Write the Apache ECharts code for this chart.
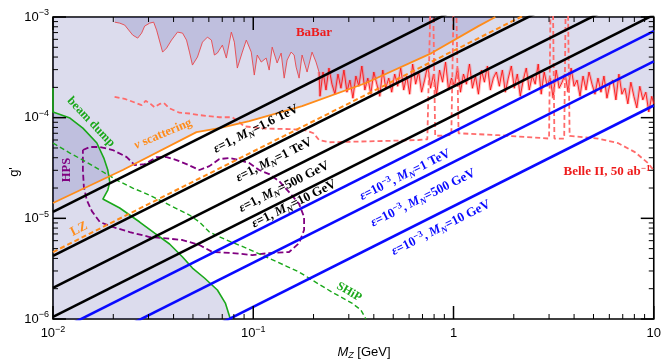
<!DOCTYPE html>
<html>
<head>
<meta charset="utf-8">
<title>Z' coupling limits</title>
<script src="https://cdn.jsdelivr.net/npm/echarts@6/dist/echarts.min.js"></script>
<style>
  html, body { margin: 0; padding: 0; background: #fff; }
  #chart { width: 664px; height: 362px; }
</style>
</head>
<body>
<div id="chart"></div>
<script>
// ---- axis ticks ----
var xMajorTicks = [0.01, 0.1, 1, 10];
var xTickLabels = ['10^-2', '10^-1', '1', '10'];
var xMinorTicks = [0.02, 0.03, 0.04, 0.05, 0.06, 0.07, 0.08, 0.09, 0.2, 0.3, 0.4, 0.5, 0.6, 0.7, 0.8, 0.9, 2, 3, 4, 5, 6, 7, 8, 9];
var yMajorTicks = [1e-6, 1e-5, 1e-4, 1e-3];
var yTickLabels = ['10^-6', '10^-5', '10^-4', '10^-3'];
var yMinorTicks = [2e-6, 3e-6, 4e-6, 5e-6, 6e-6, 7e-6, 8e-6, 9e-6, 2e-5, 3e-5, 4e-5, 5e-5, 6e-5, 7e-5, 8e-5, 9e-5, 2e-4, 3e-4, 4e-4, 5e-4, 6e-4, 7e-4, 8e-4, 9e-4];

// ---- straight lines g' ~ M_Z (value at M_Z = 0.01 and at M_Z = 10) ----
var lineEndsMz = [0.01, 10];
var blackAtLeft = [1.16e-5, 4.23e-6, 2.04e-6, 1.05e-6];   // eps=1, M_N = 1.6 TeV, 1 TeV, 500 GeV, 10 GeV
var blackAtRight = [1.16e-2, 4.23e-3, 2.04e-3, 1.05e-3];
var blueAtLeft = [7.24e-7, 3.63e-7, 1.32e-7];             // eps=1e-3, M_N = 1 TeV, 500 GeV, 10 GeV
var blueAtRight = [7.24e-4, 3.63e-4, 1.32e-4];
var lzG = [4.62e-6, 4.62e-3];

// ---- nu scattering ----
var nuMz = [0.01, 0.0223, 0.05205, 0.06773, 0.09551, 0.1753, 0.365, 0.7773, 1.332, 1.618];
var nuG = [1.42e-5, 3.02e-5, 7.19e-5, 7.88e-5, 9.26e-5, 1.30e-4, 2.21e-4, 4.38e-4, 8.12e-4, 1.0e-3];

// ---- beam dump ----
var beamMz = [0.01, 0.01, 0.01215, 0.0141, 0.01656, 0.01794, 0.01878, 0.01921, 0.01878, 0.01774, 0.02154, 0.02709, 0.03217, 0.0382, 0.04435, 0.0497, 0.05705, 0.0662, 0.07255, 0.07685];
var beamG = [1.97e-4, 1.137e-4, 9.91e-5, 7.88e-5, 5.60e-5, 3.97e-5, 3.02e-5, 2.29e-5, 1.91e-5, 1.555e-5, 1.266e-5, 9.19e-6, 7.14e-6, 5.56e-6, 4.13e-6, 3.21e-6, 2.554e-6, 1.94e-6, 1.44e-6, 1.0e-6];

// ---- SHiP ----
var shipMz = [0.01, 0.01215, 0.0141, 0.01714, 0.02082, 0.02501, 0.03038, 0.0382, 0.04803, 0.05386, 0.0604, 0.07338, 0.09231, 0.116, 0.1459, 0.1694, 0.1966, 0.2472, 0.3108, 0.3447, 0.365];
var shipG = [5.60e-5, 4.45e-5, 3.79e-5, 3.02e-5, 2.40e-5, 2.00e-5, 1.70e-5, 1.355e-5, 1.078e-5, 9.19e-6, 7.31e-6, 6.09e-6, 5.07e-6, 4.13e-6, 3.36e-6, 2.93e-6, 2.44e-6, 1.85e-6, 1.44e-6, 1.23e-6, 1.0e-6];

// ---- HPS (closed contour) ----
var hpsMz = [0.0141, 0.01528, 0.01714, 0.01988, 0.02335, 0.02559, 0.02869, 0.03291, 0.03692, 0.04139, 0.04642, 0.05386, 0.0604, 0.06773, 0.07595, 0.08517, 0.09551, 0.1071, 0.1201, 0.1347, 0.151, 0.1694, 0.1794, 0.1794, 0.1694, 0.151, 0.1201, 0.0989, 0.07862, 0.06252, 0.05386, 0.04435, 0.03526, 0.03038, 0.02416, 0.01988, 0.01714, 0.01563, 0.01475, 0.01426, 0.0141, 0.0141];
var hpsG = [4.77e-5, 5.11e-5, 5.11e-5, 4.77e-5, 4.06e-5, 3.38e-5, 3.46e-5, 4.06e-5, 4.06e-5, 3.79e-5, 3.46e-5, 3.02e-5, 3.30e-5, 3.88e-5, 3.97e-5, 3.79e-5, 3.54e-5, 3.02e-5, 2.75e-5, 2.34e-5, 1.82e-5, 1.39e-5, 1.03e-5, 7.65e-6, 5.68e-6, 4.63e-6, 4.52e-6, 4.32e-6, 4.52e-6, 4.63e-6, 5.43e-6, 6.09e-6, 6.37e-6, 6.52e-6, 7.31e-6, 8.2e-6, 9.19e-6, 1.18e-5, 1.52e-5, 2.05e-5, 3.02e-5, 4.77e-5];

// ---- BaBar (smooth low-mass part) ----
var babarMz = [0.02034, 0.02154, 0.02281, 0.02501, 0.02649, 0.0277, 0.02869, 0.03038, 0.03181, 0.03291, 0.03526, 0.03692, 0.03908, 0.04187, 0.04435, 0.04642, 0.04803, 0.0497, 0.05265, 0.05577, 0.05904, 0.0618, 0.06397, 0.0662, 0.07012, 0.07338, 0.07773, 0.08046, 0.08325, 0.08818, 0.09231, 0.09772, 0.1012, 0.1047, 0.1096, 0.116, 0.1201, 0.1243, 0.1316, 0.1378, 0.1427, 0.1476, 0.1545, 0.16, 0.1637, 0.1694, 0.1753, 0.1857, 0.1966, 0.2058, 0.213];
var babarG = [8.89e-4, 8.69e-4, 8.31e-4, 6.61e-4, 6.17e-4, 6.92e-4, 8.12e-4, 8.69e-4, 8.89e-4, 7.41e-4, 4.48e-4, 4.91e-4, 5.90e-4, 7.08e-4, 6.92e-4, 5.90e-4, 4.48e-4, 3.33e-4, 4.00e-4, 5.63e-4, 6.31e-4, 5.90e-4, 4.19e-4, 4.38e-4, 5.26e-4, 3.91e-4, 7.08e-4, 5.63e-4, 3.11e-4, 4.48e-4, 5.90e-4, 4.48e-4, 2.65e-4, 4.19e-4, 3.57e-4, 3.91e-4, 2.97e-4, 5.02e-4, 3.49e-4, 4.38e-4, 2.47e-4, 3.73e-4, 4.48e-4, 4.19e-4, 3.18e-4, 2.47e-4, 4.19e-4, 2.84e-4, 4.48e-4, 3.57e-4, 2.84e-4];

// ---- BaBar (fluctuating part above 0.21 GeV) ----
var babarNoiseMz = [0.213, 0.2154, 0.223, 0.2308, 0.2388, 0.2472, 0.2559, 0.2648, 0.2741, 0.2837, 0.2936, 0.3039, 0.3145, 0.3255, 0.3368, 0.3486, 0.3608, 0.3734, 0.3865, 0.3999, 0.4139, 0.4284, 0.4434, 0.4589, 0.4749, 0.4915, 0.5087, 0.5265,
  0.5449, 0.564, 0.5837, 0.6041, 0.6252, 0.6471, 0.6697, 0.6931, 0.7174, 0.7425, 0.7684, 0.7953, 0.8231, 0.8519, 0.8817, 0.9125, 0.9444, 0.9772, 1.0116, 1.0469, 1.0835, 1.1214, 1.1606, 1.2012, 1.2432, 1.2866, 1.3317, 1.3782, 1.4264, 1.4763, 1.5279, 1.5813, 1.6367, 1.6939,
  1.7531, 1.8145, 1.8779, 1.9435, 2.0115, 2.0819, 2.1546, 2.23, 2.308, 2.3886, 2.4721, 2.5586, 2.648, 2.7406, 2.8364, 2.9356, 3.0383, 3.1444, 3.2543, 3.3683, 3.486, 3.6078, 3.7339, 3.8646, 3.9994, 4.1393, 4.284, 4.4339, 4.5888, 4.7493, 4.9153, 5.0872, 5.2651,
  5.4491, 5.6396, 5.8368, 6.0409, 6.2517, 6.4703, 6.6972, 6.9313, 7.1736, 7.4244, 7.6842, 7.9527, 8.2307, 8.5184, 8.8163, 9.1243, 9.4434, 9.7724, 10];
var babarNoiseG = [2.84e-4, 1.63e-4, 2.84e-4, 1.88e-4, 3.11e-4, 2.15e-4, 1.71e-4, 2.71e-4, 1.96e-4, 2.97e-4, 1.79e-4, 2.36e-4, 1.56e-4, 2.59e-4, 2.05e-4, 3.26e-4, 1.88e-4, 2.47e-4, 1.71e-4, 2.84e-4, 2.15e-4, 1.63e-4, 2.97e-4, 1.96e-4, 2.47e-4, 1.79e-4, 2.71e-4, 2.05e-4,
  3.11e-4, 1.88e-4, 2.59e-4, 1.71e-4, 3.41e-4, 2.15e-4, 2.84e-4, 1.79e-4, 2.36e-4, 3.26e-4, 1.96e-4, 2.71e-4, 1.67e-4, 2.97e-4, 2.25e-4, 3.57e-4, 1.88e-4, 2.47e-4, 2.05e-4, 3.11e-4, 1.79e-4, 2.71e-4, 2.15e-4, 3.41e-4, 1.96e-4, 2.59e-4, 1.71e-4, 2.97e-4, 2.25e-4, 3.26e-4, 1.88e-4, 2.47e-4, 2.84e-4, 2.05e-4,
  2.97e-4, 1.79e-4, 2.47e-4, 3.26e-4, 1.96e-4, 2.71e-4, 1.63e-4, 2.36e-4, 3.11e-4, 1.88e-4, 2.59e-4, 2.15e-4, 3.41e-4, 1.71e-4, 2.84e-4, 2.05e-4, 2.47e-4, 1.56e-4, 2.97e-4, 1.96e-4, 2.25e-4, 2.71e-4, 1.79e-4, 3.11e-4, 2.05e-4, 2.36e-4, 1.63e-4, 2.59e-4, 1.88e-4, 2.84e-4, 2.15e-4, 1.71e-4, 2.47e-4,
  1.79e-4, 2.59e-4, 1.56e-4, 2.15e-4, 2.36e-4, 1.50e-4, 2.71e-4, 1.71e-4, 1.96e-4, 1.37e-4, 2.25e-4, 1.63e-4, 1.25e-4, 2.05e-4, 1.50e-4, 1.79e-4, 1.14e-4, 1.63e-4, 1.37e-4];

// ---- Belle II, 50 ab^-1 ----
var belleMz = [0.0203, 0.0228, 0.025, 0.0277, 0.029, 0.0307, 0.0321, 0.0341, 0.0358, 0.0381, 0.0428, 0.048, 0.0539, 0.0677, 0.0785, 0.0852, 0.09, 0.115, 0.151, 0.182, 0.2, 0.213, 0.239, 0.4235, 0.67,
  0.74, 0.766, 0.792, 0.81, 0.975, 1.0, 1.033, 1.06, 1.675, 3.0, 3.05, 3.14, 3.19, 3.57, 3.63, 3.73, 3.8, 3.86, 5.27, 6.62, 8.05, 9.34, 10];
var belleG = [1.61e-4, 1.54e-4, 1.44e-4, 1.33e-4, 1.47e-4, 1.37e-4, 1.27e-4, 1.37e-4, 1.40e-4, 1.24e-4, 1.12e-4, 1.10e-4, 1.06e-4, 1.01e-4, 1.01e-4, 9.0e-5, 8.2e-5, 7.8e-5, 7.7e-5, 7.5e-5, 7.0e-5, 6.0e-5, 5.7e-5, 5.85e-5, 6.0e-5,
  6.1e-5, 1.2e-3, 1.2e-3, 6.6e-5, 6.7e-5, 1.2e-3, 1.2e-3, 7.0e-5, 6.7e-5, 6.2e-5, 1.2e-3, 1.2e-3, 6.2e-5, 6.2e-5, 1.2e-3, 1.2e-3, 6.6e-5, 6.7e-5, 6.2e-5, 5.6e-5, 4.55e-5, 3.55e-5, 3.0e-5];

var serif = '"Liberation Serif", "Times New Roman", serif';
var sans = '"Liberation Sans", Arial, sans-serif';
var fillColor = 'rgba(40,40,140,0.16)';
var orange = '#ff8c1a';
var green = '#1aa81a';
var purple = '#800080';
var blue = '#0a0aff';

function pairs(xs, ys) {
  return xs.map(function (x, i) { return [x, ys[i]]; });
}

function lineSeries(data, color, width, type, z) {
  return {
    type: 'line', data: data, symbol: 'none', silent: true, z: z || 3, clip: true,
    lineStyle: { color: color, width: width, type: type || 'solid' },
    emphasis: { disabled: true }
  };
}

function fillSeries(data, origin) {
  return {
    type: 'line', data: data, symbol: 'none', silent: true, z: 1, clip: true,
    lineStyle: { width: 0, opacity: 0 },
    areaStyle: { color: fillColor, origin: origin, opacity: 1 },
    emphasis: { disabled: true }
  };
}

function tickText(label) {
  var parts = label.split('^');
  if (parts.length === 1) return '{b|' + label + '}';
  return '{b|' + parts[0] + '}{e|' + parts[1].replace('-', '\u2212') + '}';
}

function tickFormatter(ticks, labels) {
  return function (v) {
    for (var i = 0; i < ticks.length; i++) {
      if (Math.abs(Math.log10(ticks[i]) - Math.log10(v)) < 1e-6) return tickText(labels[i]);
    }
    return '';
  };
}

var axisRich = {
  b: { fontFamily: sans, fontSize: 13, color: '#000', lineHeight: 17 },
  e: { fontFamily: sans, fontSize: 9, color: '#000', lineHeight: 9, verticalAlign: 'top' }
};

function richStyles(color, size) {
  return {
    r: { fontFamily: serif, fontWeight: 'bold', fontSize: size, fill: color, lineHeight: size + 3 },
    i: { fontFamily: serif, fontWeight: 'bold', fontStyle: 'italic', fontSize: size, fill: color, lineHeight: size + 3 },
    s: { fontFamily: serif, fontWeight: 'bold', fontStyle: 'italic', fontSize: Math.round(size * 0.72), fill: color, lineHeight: 8, verticalAlign: 'bottom' },
    p: { fontFamily: serif, fontWeight: 'bold', fontSize: Math.round(size * 0.72), fill: color, lineHeight: 8, verticalAlign: 'top' }
  };
}

function label(text, x, y, rot, color, size) {
  return {
    type: 'text', x: x, y: y, rotation: rot, silent: true, z: 100,
    style: { text: text, rich: richStyles(color, size || 12), align: 'center', verticalAlign: 'middle' }
  };
}

var series = [];
// shaded regions
series.push(fillSeries(pairs(nuMz, nuG), 'end'));
series.push(fillSeries(pairs(beamMz, beamG), 'start'));
series.push(fillSeries(pairs(babarMz, babarG), 'end'));
series.push(fillSeries(pairs(babarNoiseMz, babarNoiseG), 'end'));

// curves
series.push(lineSeries(pairs(babarMz, babarG), '#e8464b', 0.9, 'solid', 3));
series.push(lineSeries(pairs(babarNoiseMz, babarNoiseG), 'rgba(255,90,90,0.35)', 3.2, 'solid', 3));
series.push(lineSeries(pairs(babarNoiseMz, babarNoiseG), '#ff0000', 0.8, 'solid', 3));
series.push(lineSeries(pairs(belleMz, belleG), '#ff6b6b', 1.8, [5, 3], 3));
series.push(lineSeries(pairs(hpsMz, hpsG), purple, 1.8, [6, 3], 4));
series.push(lineSeries(pairs(shipMz, shipG), green, 1.4, [5, 3], 4));
series.push(lineSeries(pairs(beamMz, beamG), green, 1.6, 'solid', 4));
series.push(lineSeries(pairs(nuMz, nuG), orange, 1.8, 'solid', 4));
series.push(lineSeries(pairs(lineEndsMz, lzG), orange, 2, [5, 3], 5));
blackAtLeft.forEach(function (g, i) {
  series.push(lineSeries(pairs(lineEndsMz, [g, blackAtRight[i]]), '#000', 2.6, 'solid', 6));
});
blueAtLeft.forEach(function (g, i) {
  series.push(lineSeries(pairs(lineEndsMz, [g, blueAtRight[i]]), blue, 2.6, 'solid', 6));
});

// inward ticks on all four sides
series.push({
  type: 'custom', silent: true, z: 20, clip: false, data: [[1, 1e-5]],
  renderItem: function (params, api) {
    var cs = params.coordSys;
    var L = cs.x, R = cs.x + cs.width, T = cs.y, B = cs.y + cs.height;
    var kids = [];
    function seg(x1, y1, x2, y2, w) {
      kids.push({ type: 'line', shape: { x1: x1, y1: y1, x2: x2, y2: y2 }, style: { stroke: '#000', lineWidth: w } });
    }
    xMajorTicks.forEach(function (v) { var x = api.coord([v, 1e-5])[0]; seg(x, B, x, B - 13, 1.5); seg(x, T, x, T + 13, 1.5); });
    xMinorTicks.forEach(function (v) { var x = api.coord([v, 1e-5])[0]; seg(x, B, x, B - 5, 1); seg(x, T, x, T + 5, 1); });
    yMajorTicks.forEach(function (v) { var y = api.coord([1, v])[1]; seg(L, y, L + 13, y, 1.5); seg(R, y, R - 13, y, 1.5); });
    yMinorTicks.forEach(function (v) { var y = api.coord([1, v])[1]; seg(L, y, L + 5, y, 1); seg(R, y, R - 5, y, 1); });
    return { type: 'group', children: kids };
  }
});

var graphics = [
  label('{r|BaBar}', 314, 33, 0, '#ee1c1c', 13),
  label('{r|Belle II, 50 ab}{p|\u22121}', 607, 172, 0, '#ee1c1c', 13),
  label('{r|HPS}', 67, 170, Math.PI / 2, purple, 12.5),
  label('{r|beam dump}', 91, 122, -0.815, green, 12.5),
  label('{i|\u03bd}{r| scattering}', 163, 134, 0.40, orange, 12.5),
  label('{r|LZ}', 79, 229, 0.464, orange, 13),
  label('{r|SHiP}', 349, 292, -0.52, green, 12),
  label('{i|\u03b5}{r|=1, }{i|M}{s|N}{r|=1.6 TeV}', 256, 129, 0.464, '#000', 13),
  label('{i|\u03b5}{r|=1, }{i|M}{s|N}{r|=1 TeV}', 274, 160, 0.464, '#000', 13),
  label('{i|\u03b5}{r|=1, }{i|M}{s|N}{r|=500 GeV}', 284, 187, 0.464, '#000', 13),
  label('{i|\u03b5}{r|=1, }{i|M}{s|N}{r|=10 GeV}', 294, 204, 0.464, '#000', 13),
  label('{i|\u03b5}{r|=10}{p|\u22123}{r|, }{i|M}{s|N}{r|=1 TeV}', 405, 175, 0.464, blue, 13),
  label('{i|\u03b5}{r|=10}{p|\u22123}{r|, }{i|M}{s|N}{r|=500 GeV}', 423, 198, 0.464, blue, 13),
  label('{i|\u03b5}{r|=10}{p|\u22123}{r|, }{i|M}{s|N}{r|=10 GeV}', 441, 228, 0.464, blue, 13),
  {
    type: 'text', x: 14, y: 172, rotation: Math.PI / 2, silent: true,
    style: { text: "g'", fontFamily: sans, fontSize: 13, fill: '#000', align: 'center', verticalAlign: 'middle' }
  },
  {
    type: 'text', x: 364, y: 352, silent: true,
    style: {
      text: '{i|M}{s|Z}{n| [GeV]}', align: 'center', verticalAlign: 'middle',
      rich: {
        i: { fontFamily: sans, fontStyle: 'italic', fontSize: 13, fill: '#000', lineHeight: 16 },
        s: { fontFamily: sans, fontStyle: 'italic', fontSize: 9, fill: '#000', lineHeight: 9, verticalAlign: 'bottom' },
        n: { fontFamily: sans, fontSize: 13, fill: '#000', lineHeight: 16 }
      }
    }
  }
];

var chart = echarts.init(document.getElementById('chart'), null, { renderer: 'canvas' });
chart.setOption({
  animation: false,
  grid: { left: 53, right: 8, top: 17, bottom: 43, show: true, borderColor: '#000', borderWidth: 1.6, backgroundColor: 'transparent' },
  xAxis: {
    type: 'log', logBase: 10, min: 0.01, max: 10,
    axisLine: { show: false }, axisTick: { show: false }, splitLine: { show: false },
    axisLabel: { margin: 6, showMinLabel: true, showMaxLabel: true, formatter: tickFormatter(xMajorTicks, xTickLabels), rich: axisRich }
  },
  yAxis: {
    type: 'log', logBase: 10, min: 1e-6, max: 1e-3,
    axisLine: { show: false }, axisTick: { show: false }, splitLine: { show: false },
    axisLabel: { margin: 4, showMinLabel: true, showMaxLabel: true, formatter: tickFormatter(yMajorTicks, yTickLabels), rich: axisRich }
  },
  series: series,
  graphic: graphics
});
</script>
</body>
</html>
